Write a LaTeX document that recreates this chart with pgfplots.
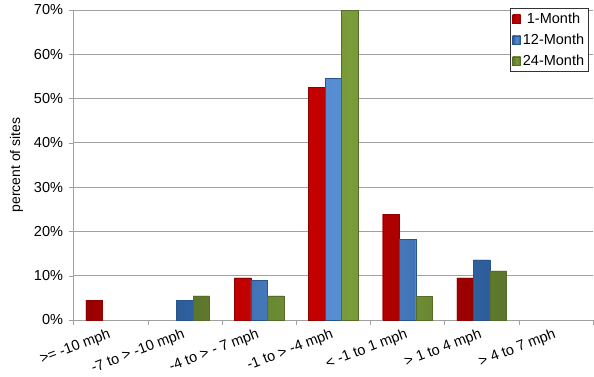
\documentclass[border=0pt]{standalone}
\usepackage{pgfplots}
\pgfplotsset{compat=1.18}
\usepackage{fontspec}
\setmainfont{Liberation Sans}
\definecolor{cred}{RGB}{204,0,0}
\definecolor{cblue}{RGB}{58,122,204}
\definecolor{cgreen}{RGB}{122,156,58}
\definecolor{axgray}{RGB}{160,160,160}
\begin{document}
\begin{tikzpicture}[font=\fontsize{14.5}{17}\selectfont]
\begin{axis}[
  scale only axis,
  width=519.5pt, height=310pt,
  ybar=0pt, bar width=16.5pt,
  xmin=-0.5, xmax=6.5,
  ymin=0, ymax=70,
  axis lines*=left,
  axis line style={axgray},
  xtick={0,...,6},
  xticklabels={{>= -10 mph},{-7 to > -10 mph},{-4 to > - 7 mph},{-1 to > -4 mph},{< -1 to 1 mph},{> 1 to 4 mph},{> 4 to 7 mph}},
  major x tick style={draw=none},
  minor xtick={-0.5,0.5,...,6.5},
  minor x tick style={axgray},
  minor tick length=5pt,
  tick align=outside,
  x tick label style={rotate=21, anchor=north east, inner sep=1pt, yshift=-1pt, xshift=-3pt, font=\fontsize{14.5}{17}\selectfont},
  ytick={0,10,...,70},
  yticklabel={\pgfmathprintnumber{\tick}\%},
  y tick style={axgray},
  major tick length=4pt,
  y tick label style={xshift=-3pt, font=\fontsize{14.5}{17}\selectfont},
  ymajorgrids,
  grid style={axgray, line width=0.8pt},
  ylabel={percent of sites},
  ylabel style={yshift=4pt, font=\fontsize{14}{17}\selectfont},
  /pgf/number format/assume math mode=true,
  legend style={at={(0.992,1.006)}, anchor=north east, draw=black!80, fill=white,
    font=\fontsize{14.5}{17}\selectfont, row sep=5pt, inner sep=2.5pt},
  legend image code/.code={\fill[#1] (0pt,-4pt) rectangle (8pt,4pt);},
  clip=true,
]
\addplot[fill=cred, draw=cred!70!black, left color=cred!75!black, right color=cred!75!black, middle color=cred] coordinates {(0,4.5) (2,9.5) (3,52.5) (4,23.9) (5,9.5)};
\addplot[fill=cblue, draw=cblue!70!black, left color=cblue!75!black, right color=cblue!75!black, middle color=cblue!85!white] coordinates {(1,4.4) (2,9.0) (3,54.5) (4,18.2) (5,13.6)};
\addplot[fill=cgreen, draw=cgreen!70!black, left color=cgreen!75!black, right color=cgreen!75!black, middle color=cgreen] coordinates {(1,5.45) (2,5.45) (3,70) (4,5.4) (5,11.1)};
\legend{1-Month,12-Month,24-Month}
\end{axis}
\pgfresetboundingbox
\useasboundingbox ([xshift=-73.5pt,yshift=-56pt]current axis.south west) rectangle ++(594pt,376pt);
\end{tikzpicture}
\end{document}
